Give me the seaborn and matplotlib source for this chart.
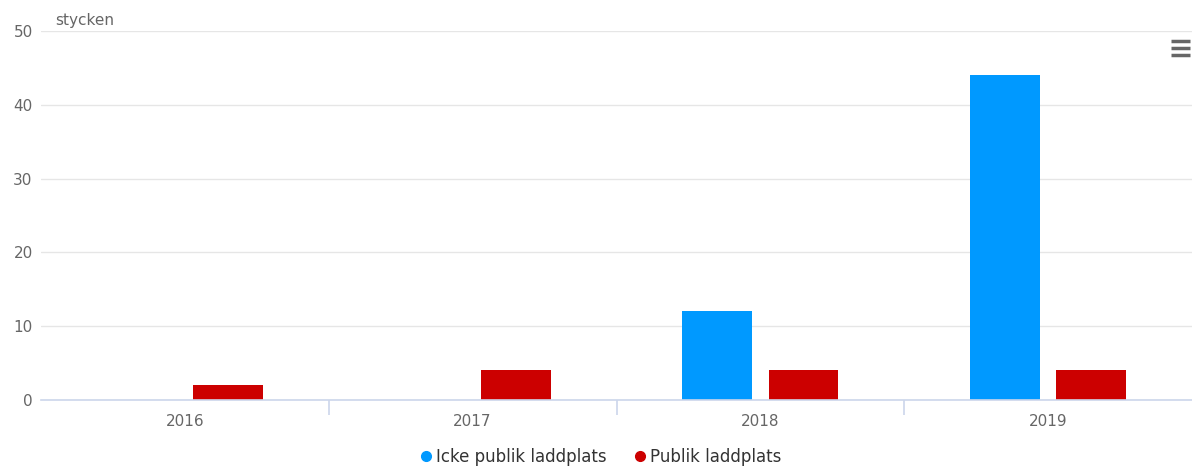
import matplotlib
matplotlib.use("Agg")
import matplotlib.pyplot as plt
from matplotlib.lines import Line2D
import seaborn as sns
import pandas as pd

years = ["2016", "2017", "2018", "2019"]
icke_publik = [0, 0, 12, 44]
publik = [2, 4, 4, 4]
series_names = ["Icke publik laddplats", "Publik laddplats"]
colors = ["#0099ff", "#cc0000"]
y_ticks = [0, 10, 20, 30, 40, 50]
unit_label = "stycken"

df = pd.DataFrame({
    "year": years * 2,
    "value": icke_publik + publik,
    "series": [series_names[0]] * len(years) + [series_names[1]] * len(years),
})

sns.set_theme(style="white")
plt.rcParams['font.family'] = ['DejaVu Sans']

fig = plt.figure(figsize=(11.92, 4.68), dpi=100)
ax = fig.add_axes([41 / 1192, 1 - 400 / 468, 1 - 41 / 1192, (400 - 31) / 468])

sns.barplot(data=df, x="year", y="value", hue="series", order=years,
            hue_order=series_names, palette=colors, width=0.6, gap=0.19,
            linewidth=0, saturation=1, ax=ax, legend=False)

ax.set_xlim(-0.5, 3.5)
ax.set_ylim(0, 50)
ax.set_yticks(y_ticks)
ax.yaxis.grid(True, color="#e6e6e6", linewidth=1)
ax.set_axisbelow(True)
for s in ["top", "right", "left"]:
    ax.spines[s].set_visible(False)
ax.spines["bottom"].set_color("#ccd6eb")
ax.spines["bottom"].set_linewidth(1.2)
ax.set_xlabel("")
ax.set_ylabel("")
ax.tick_params(axis="y", length=0, pad=6, labelsize=11, labelcolor="#666666")
ax.tick_params(axis="x", which="major", length=0, pad=10, labelsize=11, labelcolor="#666666")
ax.set_xticks([0.5, 1.5, 2.5], minor=True)
ax.tick_params(axis="x", which="minor", bottom=True, length=11, color="#ccd6eb", width=1.2)

fig.text(55 / 1192, 1 - 20 / 468, unit_label, fontsize=11, color="#666666", va="center", ha="left")

handles = [Line2D([], [], marker="o", linestyle="", markersize=7,
                  markerfacecolor=c, markeredgecolor=c) for c in colors]
fig.legend(handles, series_names, loc="center", bbox_to_anchor=(600 / 1192, 1 - 457 / 468),
           ncol=2, frameon=False, fontsize=12, handletextpad=0.2, columnspacing=1.6,
           labelcolor="#333333", handlelength=0.8)

# menu icon
for yy in [41, 48, 55]:
    fig.add_artist(Line2D([1171 / 1192, 1190 / 1192], [1 - yy / 468, 1 - yy / 468],
                          color="#666666", linewidth=2.5, solid_capstyle="butt"))

fig.savefig("out.png", dpi=100)
